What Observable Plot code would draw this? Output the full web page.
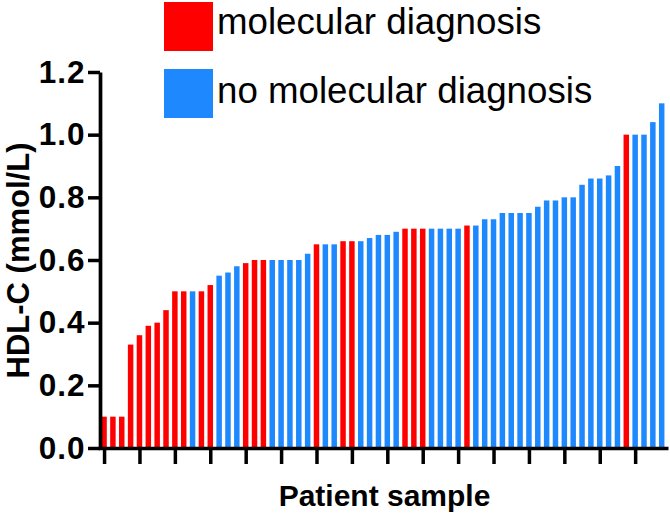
<!DOCTYPE html>
<html>
<head>
<meta charset="utf-8">
<script src="https://cdn.jsdelivr.net/npm/d3@7"></script>
<script src="https://cdn.jsdelivr.net/npm/@observablehq/plot@0.6"></script>
<style>
  html, body { margin: 0; padding: 0; background: #fff; }
  #wrap { position: relative; width: 670px; height: 513px; font-family: "Liberation Sans", Arial, Helvetica, sans-serif; }
  #legend { position: absolute; left: 164px; top: 2px; }
  .sw { position: absolute; left: 0; width: 49px; height: 49px; }
  .lab { position: absolute; left: 53px; font-size: 36.7px; line-height: 36px; white-space: nowrap; color: #000; }
  g[aria-label="y-axis tick label"] text { letter-spacing: 1px; }
</style>
</head>
<body>
<div id="wrap">
  <div id="chart"></div>
  <div id="legend"></div>
</div>
<script>
// HDL-C values (mmol/L), one per patient, sorted as in the figure
const hdlC = [
  0.10, 0.10, 0.10, 0.33, 0.36, 0.39, 0.40, 0.44, 0.50, 0.50,
  0.50, 0.50, 0.52, 0.55, 0.56, 0.58, 0.59, 0.60, 0.60, 0.60,
  0.60, 0.60, 0.60, 0.62, 0.65, 0.65, 0.65, 0.66, 0.66, 0.66,
  0.67, 0.68, 0.68, 0.69, 0.70, 0.70, 0.70, 0.70, 0.70, 0.70,
  0.70, 0.71, 0.71, 0.73, 0.73, 0.75, 0.75, 0.75, 0.75, 0.77,
  0.79, 0.79, 0.80, 0.80, 0.84, 0.86, 0.86, 0.87, 0.90, 1.00,
  1.00, 1.00, 1.04, 1.10
];
// 1 = molecular diagnosis, 0 = no molecular diagnosis
const molecular = [
  1, 1, 1, 1, 1, 1, 1, 1, 1, 1,
  0, 1, 1, 0, 0, 0, 1, 1, 1, 0,
  0, 0, 0, 0, 1, 0, 0, 1, 1, 0,
  0, 0, 0, 0, 1, 1, 1, 0, 0, 0,
  0, 1, 0, 0, 0, 0, 0, 0, 0, 0,
  0, 0, 0, 0, 0, 0, 0, 0, 0, 1,
  0, 0, 0, 0
];
const groups = ["molecular diagnosis", "no molecular diagnosis"];
const groupColors = ["#ff0000", "#1e88ff"];
const yTicks = [0, 0.2, 0.4, 0.6, 0.8, 1.0, 1.2];
const xTickPatients = [1, 5, 9, 13, 17, 21, 25, 29, 33, 37, 41, 45, 49, 53, 57, 61];
const yTitle = "HDL-C (mmol/L)";
const xTitle = "Patient sample";

const data = hdlC.map((v, i) => ({
  patient: i + 1,
  hdl: v,
  group: groups[molecular[i] ? 0 : 1]
}));

const W = 670, H = 513, mL = 100, mR = 2, mT = 72, mB = 65;
const fw = W - mL - mR, fh = H - mT - mB;

const chart = Plot.plot({
  width: W,
  height: H,
  marginLeft: mL,
  marginRight: mR,
  marginTop: mT,
  marginBottom: mB,
  style: { fontFamily: "'Liberation Sans', Arial, Helvetica, sans-serif", color: "#000", background: "#fff", overflow: "visible" },
  x: { type: "band", domain: data.map(d => d.patient), paddingInner: 0.38, paddingOuter: 0.275, align: 0.27 },
  y: { domain: [0, 1.2] },
  color: { domain: groups, range: groupColors },
  marks: [
    Plot.barY(data, { x: "patient", y: "hdl", fill: "group" }),
    Plot.frame({ stroke: "#000", strokeWidth: 3.7, strokeDasharray: `0 ${fw + fh} ${fw + fh + 4}` }),
    Plot.axisY({
      ticks: yTicks, tickFormat: d3.format(".1f"), tickSize: 12, tickPadding: 3,
      strokeWidth: 3.5, fontSize: 31.5, fontWeight: "bold",
      label: null
    }),
    Plot.axisY({
      ticks: [], tickSize: 0, fontSize: 31, fontWeight: "bold",
      label: yTitle, labelAnchor: "center", labelOffset: 94, labelArrow: "none"
    }),
    Plot.axisX({
      ticks: xTickPatients, tickFormat: () => "", tickSize: 16, tickPadding: 0,
      strokeWidth: 3.5, fontSize: 30, fontWeight: "bold",
      label: xTitle, labelAnchor: "center", labelOffset: 57, labelArrow: "none"
    })
  ]
});
document.getElementById("chart").appendChild(chart);

// legend
const legend = document.getElementById("legend");
const rowTop = [0, 67];
const textTop = [2, 71];
groups.forEach((g, i) => {
  const sw = document.createElement("div");
  sw.className = "sw";
  sw.style.top = rowTop[i] + "px";
  sw.style.background = groupColors[i];
  const lab = document.createElement("div");
  lab.className = "lab";
  lab.style.top = textTop[i] + "px";
  lab.textContent = g;
  legend.appendChild(sw);
  legend.appendChild(lab);
});
</script>
</body>
</html>
